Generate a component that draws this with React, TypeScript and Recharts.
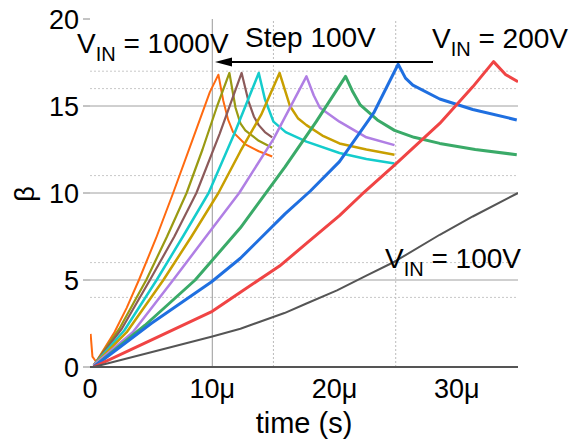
import { LineChart, Line, XAxis, YAxis, ReferenceLine } from 'recharts';

// ---------------------------------------------------------------------------
// Data (time in µs, β)
// ---------------------------------------------------------------------------

type Pt = [number, number];

const vin1000: Pt[] = [
  [0.05, 1.9], [0.2, 0.6], [0.5, 0.3], [2, 2.0], [3, 3.4], [4, 5.0], [5.4, 7.4], [6.8, 10.0],
  [8.3, 12.9], [9.8, 15.8], [10.5, 16.8], [10.9, 15.3], [11.3, 14.2], [11.7, 13.5],
  [12.7, 12.8], [13.8, 12.4], [14.9, 12.1],
];
const vin900: Pt[] = [
  [0.3, 0.1], [2.4, 2.2], [4.6, 5.0], [6.3, 7.5], [7.9, 10.0], [9.2, 12.5], [10.4, 15.0],
  [11.4, 16.9], [11.9, 14.9], [12.3, 14.0], [12.7, 13.6], [13.8, 13.0], [14.9, 12.6],
];
const vin800: Pt[] = [
  [0.3, 0.1], [2.6, 2.2], [4.9, 5.0], [6.9, 7.5], [8.7, 10.0], [10.6, 13.4], [12.4, 16.9],
  [12.95, 15.3], [13.4, 14.4], [13.8, 13.9], [14.3, 13.5], [14.9, 13.2],
];
const vin700: Pt[] = [
  [0.3, 0.1], [2.8, 2.1], [5.45, 5.0], [7.6, 7.5], [9.7, 10.0], [11.8, 13.4], [13.8, 16.9],
  [14.3, 15.4], [15.0, 14.1], [16.0, 13.5], [17.7, 12.95], [20.4, 12.3], [22.6, 11.95],
  [24.9, 11.7],
];
const vin600: Pt[] = [
  [0.3, 0.1], [3, 2.0], [6.0, 5.0], [8.3, 7.5], [10.5, 10.0], [12.3, 12.4], [14.0, 14.5],
  [15.5, 16.9], [16.35, 15.0], [17.0, 14.3], [17.7, 13.9], [19, 13.3], [20.4, 12.85],
  [22.6, 12.5], [24.9, 12.2],
];
const vin500: Pt[] = [
  [0.3, 0.1], [3.5, 2.0], [6.8, 5.0], [9.6, 7.6], [12.2, 10.0], [15.0, 13.1], [17.7, 16.7],
  [18.3, 15.6], [18.8, 14.9], [20.4, 14.1], [22.6, 13.2], [24.9, 12.75],
];
const vin400: Pt[] = [
  [0.3, 0.0], [4.5, 2.4], [8.6, 5.0], [12.3, 8.0], [15.95, 11.5], [18.5, 14.1], [20.9, 16.7],
  [21.5, 15.8], [22.1, 15.06], [23.5, 14.2], [24.9, 13.6], [26.5, 13.2], [28.6, 12.85],
  [31.5, 12.5], [34.9, 12.2],
];
const vin300: Pt[] = [
  [0.3, 0.0], [5, 2.5], [9.95, 4.9], [12.3, 6.25], [15.95, 8.8], [18, 10.1], [20.4, 11.8],
  [23.2, 14.6], [25.2, 17.4], [25.8, 16.6], [26.4, 16.2], [28.6, 15.4], [31.3, 14.8],
  [34.9, 14.2],
];
const vin200: Pt[] = [
  [0.3, 0.0], [5, 1.55], [10, 3.2], [12.3, 4.3], [15.5, 5.8], [17.7, 7.1], [20.4, 8.7],
  [22.2, 9.9], [24.9, 11.6], [28.6, 14.0], [31.3, 16.1], [33, 17.55], [34, 16.8], [35, 16.4],
];
const vin100: Pt[] = [
  [0.3, 0.0], [5, 0.85], [10, 1.75], [12.3, 2.2], [15.9, 3.1], [17.7, 3.65], [20.2, 4.4],
  [22.6, 5.25], [24.9, 6.05], [28.6, 7.6], [31.3, 8.65], [35, 10.0],
];

const X_TICKS = [0, 10, 20, 30];
const Y_TICKS = [0, 5, 10, 15, 20];
const MAJOR_GRID_Y = [5, 10, 15];
const MINOR_GRID_Y = [4, 6, 11, 16, 17];
const MAJOR_GRID_X = [10];
const MINOR_GRID_X = [15, 25];

// ---------------------------------------------------------------------------
// Styling
// ---------------------------------------------------------------------------

const FONT = '"Liberation Sans", Arial, Helvetica, sans-serif';

// drawn from 1000 V down to 100 V so the low-voltage traces sit on top
const SERIES = [
  { name: '1000V', pts: vin1000, color: '#FF6A10', width: 2 },
  { name: '900V', pts: vin900, color: '#9A9A12', width: 2.2 },
  { name: '800V', pts: vin800, color: '#8C5A5A', width: 2.2 },
  { name: '700V', pts: vin700, color: '#14CCCC', width: 2.5 },
  { name: '600V', pts: vin600, color: '#C89F00', width: 2.5 },
  { name: '500V', pts: vin500, color: '#B07FE4', width: 2.5 },
  { name: '400V', pts: vin400, color: '#3AAA68', width: 3 },
  { name: '300V', pts: vin300, color: '#1F6FE0', width: 3 },
  { name: '200V', pts: vin200, color: '#F04444', width: 3 },
  { name: '100V', pts: vin100, color: '#555555', width: 2 },
];

const toRows = (pts: Pt[]) => pts.map(([t, b]) => ({ t, b }));

function VinLabel({ x, y, value }: { x: number; y: number; value: string }) {
  return (
    <text x={x} y={y} fontSize={28} fill="#000">
      <tspan>V</tspan>
      <tspan fontSize={20} dy={8}>IN</tspan>
      <tspan dy={-8}>{` = ${value}`}</tspan>
    </text>
  );
}

export default function App() {
  return (
    <div
      style={{
        position: 'absolute',
        left: 0,
        top: 0,
        width: 574,
        height: 445,
        background: '#fff',
        fontFamily: FONT,
      }}
    >
      <LineChart width={574} height={445} margin={{ top: 19, right: 56, bottom: 0, left: 0 }}>
        <XAxis
          type="number"
          dataKey="t"
          domain={[0, 35]}
          ticks={X_TICKS}
          allowDataOverflow
          tickFormatter={(v: number) => (v === 0 ? '0' : `${v}μ`)}
          height={78}
          axisLine={{ stroke: '#555', strokeWidth: 2 }}
          tickLine={false}
          tickMargin={6}
          tick={{ fill: '#000', fontSize: 27, fontFamily: FONT }}
          label={{
            value: 'time (s)',
            position: 'insideBottom',
            offset: 12,
            fill: '#000',
            fontSize: 29,
            fontFamily: FONT,
          }}
        />
        <YAxis
          type="number"
          domain={[0, 20]}
          ticks={Y_TICKS}
          allowDataOverflow
          width={90}
          axisLine={false}
          tickSize={7}
          tickMargin={4}
          tickLine={{ stroke: '#888' }}
          tick={{ fill: '#000', fontSize: 27, fontFamily: FONT }}
        />

        {/* grid */}
        {MINOR_GRID_Y.map((v) => (
          <ReferenceLine key={`my${v}`} y={v} stroke="#c8c8c8" strokeDasharray="2 2" />
        ))}
        {MAJOR_GRID_Y.map((v) => (
          <ReferenceLine key={`My${v}`} y={v} stroke="#a0a0a0" />
        ))}
        {MINOR_GRID_X.map((v) => (
          <ReferenceLine key={`mx${v}`} x={v} stroke="#bbbbbb" strokeDasharray="2 2" />
        ))}
        {MAJOR_GRID_X.map((v) => (
          <ReferenceLine key={`Mx${v}`} x={v} stroke="#999999" />
        ))}

        {SERIES.map((s) => (
          <Line
            key={s.name}
            data={toRows(s.pts)}
            dataKey="b"
            type="linear"
            stroke={s.color}
            strokeWidth={s.width}
            strokeLinejoin="round"
            dot={false}
            activeDot={false}
            isAnimationActive={false}
          />
        ))}
      </LineChart>

      {/* annotations */}
      <svg
        width={574}
        height={445}
        style={{ position: 'absolute', left: 0, top: 0, pointerEvents: 'none' }}
        fontFamily={FONT}
      >
        <text transform="translate(34,194) rotate(-90)" textAnchor="middle" fontSize={27} fill="#000">
          β
        </text>
        <VinLabel x={77} y={53} value="1000V" />
        <text x={245} y={47} fontSize={28} fill="#000">
          Step 100V
        </text>
        <VinLabel x={432} y={48} value="200V" />
        <VinLabel x={385} y={268} value="100V" />
        <line x1={228} y1={62} x2={433} y2={62} stroke="#000" strokeWidth={2} />
        <polygon points="215,62 232,57.5 232,66.5" fill="#000" />
      </svg>
    </div>
  );
}
